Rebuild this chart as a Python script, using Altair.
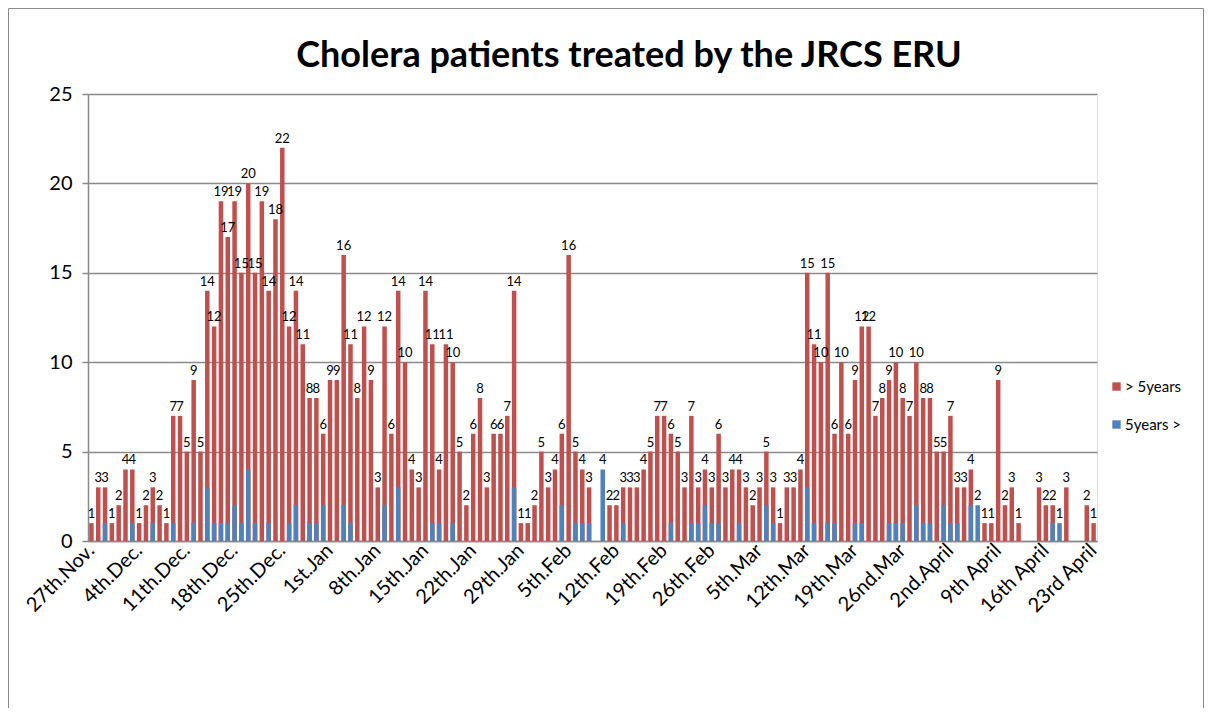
import json
import altair as alt
import pandas as pd

# > 5years (red) — daily values, 27 Nov .. 23 April
red = [1, 3, 3, 1, 2, 4, 4, 1, 2, 3, 2, 1, 7, 7, 5, 9, 5, 14, 12, 19, 17, 19, 15, 20, 15,
       19, 14, 18, 22, 12, 14, 11, 8, 8, 6, 9, 9, 16, 11, 8, 12, 9, 3, 12, 6, 14, 10, 4, 3, 14,
       11, 4, 11, 10, 5, 2, 6, 8, 3, 6, 6, 7, 14, 1, 1, 2, 5, 3, 4, 6, 16, 5, 4, 3, 0,
       0, 2, 2, 3, 3, 3, 4, 5, 7, 7, 6, 5, 3, 7, 3, 4, 3, 6, 3, 4, 4, 3, 2, 3, 5,
       3, 1, 3, 3, 4, 15, 11, 10, 15, 6, 10, 6, 9, 12, 12, 7, 8, 9, 10, 8, 7, 10, 8, 8, 5,
       5, 7, 3, 3, 4, 0, 1, 1, 9, 2, 3, 1, 0, 0, 3, 2, 2, 0, 3, 0, 0, 2, 1]

# 5years > (blue)
blue = [0, 0, 1, 0, 0, 0, 1, 0, 0, 1, 0, 0, 1, 0, 0, 1, 0, 3, 1, 1, 1, 2, 1, 4, 1,
        0, 1, 0, 0, 1, 2, 0, 1, 1, 2, 0, 0, 2, 1, 0, 0, 0, 0, 2, 0, 3, 0, 0, 0, 0,
        1, 1, 0, 1, 0, 0, 0, 0, 0, 0, 0, 0, 3, 0, 0, 0, 0, 0, 0, 2, 0, 1, 1, 1, 0,
        4, 0, 0, 1, 0, 0, 0, 0, 0, 0, 1, 0, 0, 1, 1, 2, 1, 1, 0, 0, 1, 0, 0, 0, 2,
        1, 0, 0, 0, 0, 3, 1, 0, 1, 1, 0, 0, 1, 1, 0, 0, 0, 1, 1, 1, 0, 2, 1, 1, 0,
        2, 1, 1, 0, 2, 2, 0, 0, 0, 0, 0, 0, 0, 0, 0, 0, 1, 1, 0, 0, 0, 0, 0]

tick_labels = ["27th.Nov.", "4th.Dec.", "11th.Dec.", "18th.Dec.", "25th.Dec.", "1st.Jan",
               "8th.Jan", "15th.Jan", "22th.Jan", "29th.Jan", "5th.Feb", "12th.Feb",
               "19th.Feb", "26th.Feb", "5th.Mar", "12th.Mar", "19th.Mar", "26nd.Mar",
               "2nd.April", "9th April", "16th April", "23rd April"]

series_names = ["> 5years", "5years >"]
series_colors = ["#C0504D", "#4F81BD"]
title_text = "Cholera patients treated by the JRCS ERU"

n = len(red)
red_df = pd.DataFrame([{"day": i, "series": series_names[0], "value": red[i]}
                       for i in range(n) if red[i] > 0])
blue_df = pd.DataFrame([{"day": i, "series": series_names[1], "value": blue[i]}
                        for i in range(n) if blue[i] > 0])

lab_df = pd.DataFrame([
    {"day": i, "value": (red[i] if red[i] > 0 else blue[i])}
    for i in range(n) if red[i] > 0 or blue[i] > 0
])

FONT = "Lato"
GRID = "#8a8a8a"

xscale = alt.Scale(domain=list(range(n)), paddingInner=0.34, paddingOuter=0.17)
yscale = alt.Scale(domain=[0, 25])
cscale = alt.Scale(domain=series_names, range=series_colors)

label_expr = json.dumps(tick_labels) + "[floor(datum.value / 7)]"

x_enc = alt.X("day:O", scale=xscale, sort=None,
              axis=alt.Axis(values=list(range(0, n, 7)), labelExpr=label_expr, title=None,
                            labelAngle=-45, labelAlign="right", labelBaseline="middle",
                            labelFontSize=20, labelFont=FONT, labelColor="black",
                            labelPadding=6, ticks=False, domainColor=GRID, domainWidth=1.5,
                            grid=False, labelOverlap=False))
y_enc = alt.Y("value:Q", scale=yscale, stack=None,
              axis=alt.Axis(values=[0, 5, 10, 15, 20, 25], title=None, labelFontSize=20,
                            labelFont=FONT, labelColor="black", labelPadding=10,
                            tickSize=6, tickColor=GRID, tickWidth=1.5,
                            domainColor=GRID, domainWidth=1.5,
                            grid=True, gridColor=GRID, gridWidth=1.5))
c_enc = alt.Color("series:N", scale=cscale,
                  legend=alt.Legend(title=None, orient="none", legendX=1021, legendY=285,
                                    symbolType="square", symbolSize=70, symbolStrokeWidth=0,
                                    labelFontSize=15, labelFont=FONT, labelColor="black",
                                    rowPadding=22, labelOffset=1))

red_bars = alt.Chart(red_df).mark_bar().encode(x=x_enc, y=y_enc, color=c_enc)
blue_bars = alt.Chart(blue_df).mark_bar().encode(x=x_enc, y=y_enc, color=c_enc)

labels = alt.Chart(lab_df).mark_text(baseline="bottom", dy=-2, fontSize=13, font=FONT,
                                     color="black").encode(
    x=alt.X("day:O", scale=xscale, sort=None),
    y=alt.Y("value:Q", scale=yscale),
    text=alt.Text("value:Q"),
)

title = alt.Chart(pd.DataFrame({"t": [title_text]})).mark_text(
    fontSize=36, font=FONT, fontWeight="bold", color="black", align="center",
    baseline="middle").encode(
    x=alt.value(541), y=alt.value(-38), text="t:N")

border = alt.Chart(pd.DataFrame({"a": [0]})).mark_rect(
    filled=False, stroke="#8a8a8a", strokeWidth=1).encode(
    x=alt.value(-79.5), x2=alt.value(1115.5), y=alt.value(-85.5), y2=alt.value(640))

chart = alt.layer(border, red_bars, blue_bars, labels, title).properties(
    width=1009, height=447,
    autosize=alt.AutoSizeParams(type="none"),
    padding={"left": 80, "top": 86, "right": 107, "bottom": 167},
).configure_view(stroke=None).configure(background="white")

chart.save("out.html", embed_options={"renderer": "svg", "actions": False})
